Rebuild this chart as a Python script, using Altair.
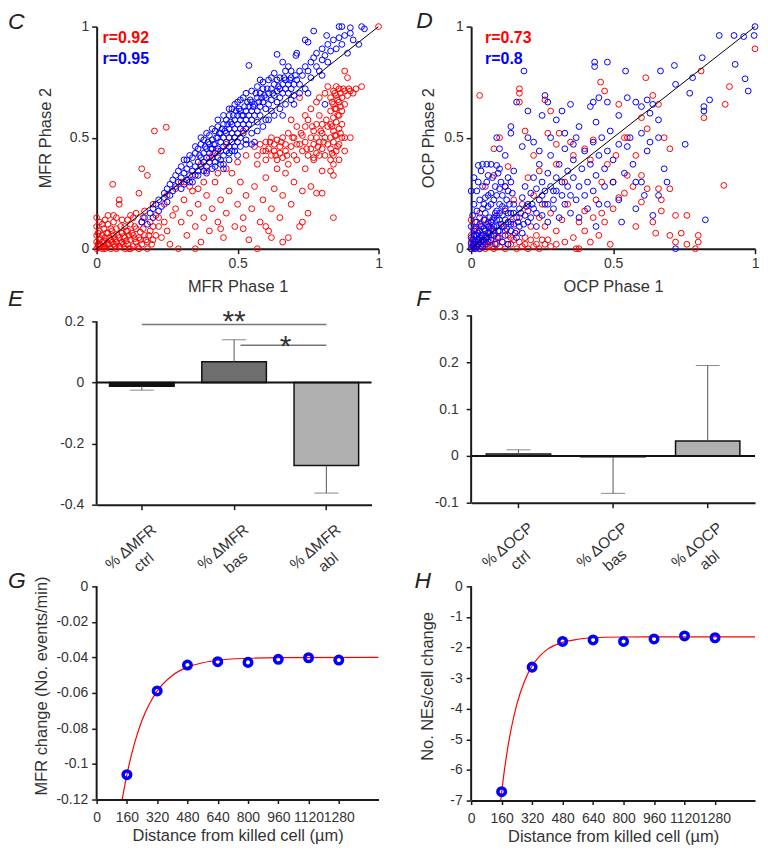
import altair as alt
import pandas as pd

FONT = "Liberation Sans"
TXT = "#333333"
AXC = "#1a1a1a"
RED = "#ff0000"
BLUE = "#0000ff"

# ---------------- Panel C (MFR phase 1 vs phase 2) ----------------
c_red = [
    (0, 0), (0.01, 0.01), (0.02, 0), (0.005, 0.02), (0.01, 0.04), (0.02, 0.03), (0.03, 0.01), (0.03, 0.05),
    (0.04, 0.02), (0.04, 0.07), (0.05, 0), (0.05, 0.04), (0.06, 0.02), (0.06, 0.06), (0.07, 0.03), (0.07, 0.09),
    (0.08, 0.01), (0.08, 0.05), (0.09, 0.03), (0.09, 0.07), (0.1, 0), (0.1, 0.05), (0.11, 0.02), (0.11, 0.08),
    (0.12, 0.04), (0.12, 0.11), (0.13, 0.01), (0.13, 0.06), (0.14, 0.03), (0.14, 0.09), (0.15, 0.05), (0.16, 0.02),
    (0.16, 0.12), (0.17, 0.06), (0.18, 0.03), (0.19, 0.08), (0.2, 0.04), (0.0, 0.06), (0.01, 0.08), (0.02, 0.11),
    (0.03, 0.13), (0.0, 0.1), (0.04, 0.11), (0.05, 0.09), (0.06, 0.12), (0.07, 0.14), (0.09, 0.13), (0.1, 0.1),
    (0.12, 0.15), (0.03, 0.0), (0.07, 0.0), (0.12, 0.0), (0.15, 0.0), (0.18, 0.0), (0.0, 0.03), (0.02, 0.06),
    (0.015, 0.015), (0.025, 0.035), (0.035, 0.02), (0.045, 0.05), (0.055, 0.03), (0.065, 0.045), (0.085, 0.025),
    (0.095, 0.055), (0.105, 0.035), (0.115, 0.06), (0.135, 0.045), (0.155, 0.075), (0.175, 0.04), (0.195, 0.02),
    (0.005, 0.005), (0.015, 0.045), (0.025, 0.01), (0.035, 0.07), (0.045, 0.02), (0.055, 0.08), (0.065, 0.01),
    (0.075, 0.06), (0.085, 0.1), (0.095, 0.02), (0.105, 0.08), (0.115, 0.0), (0.125, 0.07), (0.135, 0.1),
    (0.145, 0.01), (0.155, 0.04), (0.165, 0.09), (0.185, 0.06), (0.2, 0.1), (0.21, 0.06), (0.01, 0.12),
    (0.04, 0.15), (0.06, 0.15), (0.11, 0.13), (0.13, 0.14), (0.165, 0.14), (0.19, 0.12), (0.22, 0.14),
    (0.005, 0.07), (0.025, 0.09), (0.0, 0.14),
    (0.057, 0.29), (0.08, 0.2), (0.08, 0.22), (0.15, 0.25), (0.14, 0.16), (0.17, 0.17), (0.2, 0.2), (0.21, 0.15),
    (0.22, 0.1), (0.23, 0.05), (0.24, 0.12), (0.25, 0.08), (0.26, 0.02), (0.205, 0.53), (0.247, 0.547),
    (0.16, 0.36), (0.23, 0.44), (0.18, 0.33),
    (0.25, 0.24), (0.28, 0.27), (0.31, 0.3), (0.34, 0.33), (0.37, 0.38), (0.4, 0.41), (0.43, 0.44), (0.46, 0.47),
    (0.49, 0.5), (0.52, 0.53), (0.39, 0.35), (0.41, 0.42),
    (0.28, 0.18), (0.3, 0.12), (0.31, 0.22), (0.32, 0.06), (0.33, 0.16), (0.34, 0.26), (0.35, 0.1), (0.36, 0.2),
    (0.37, 0.03), (0.38, 0.14), (0.39, 0.24), (0.4, 0.08), (0.41, 0.18), (0.42, 0.3), (0.43, 0.12), (0.44, 0.22),
    (0.45, 0.05), (0.46, 0.16), (0.47, 0.26), (0.48, 0.34), (0.49, 0.1), (0.5, 0.2), (0.51, 0.3), (0.52, 0.14),
    (0.53, 0.24), (0.54, 0.04), (0.55, 0.18), (0.56, 0.28), (0.57, 0.38), (0.58, 0.12), (0.59, 0.22), (0.6, 0.32),
    (0.61, 0.08), (0.62, 0.18), (0.63, 0.27), (0.64, 0.36), (0.65, 0.14), (0.66, 0.24), (0.67, 0.34), (0.68, 0.05),
    (0.69, 0.2), (0.7, 0.3), (0.71, 0.4), (0.72, 0.1), (0.73, 0.26), (0.74, 0.36), (0.75, 0.16), (0.76, 0.28),
    (0.77, 0.4), (0.78, 0.25), (0.8, 0.25), (0.8, 0.35), (0.84, 0.14), (0.73, 0.12), (0.57, 0.0), (0.66, 0.03),
    (0.29, 0.0), (0.35, 0.0), (0.44, 0.09), (0.52, 0.09), (0.6, 0.1), (0.62, 0.05), (0.3, 0.3), (0.33, 0.28),
    (0.38, 0.3), (0.43, 0.34), (0.46, 0.36), (0.5, 0.39), (0.53, 0.42), (0.36, 0.27), (0.27, 0.15), (0.24, 0.2),
    (0.56, 0.46), (0.57, 0.42), (0.58, 0.47), (0.59, 0.44), (0.6, 0.4), (0.6, 0.48), (0.61, 0.45), (0.62, 0.42),
    (0.62, 0.5), (0.63, 0.47), (0.63, 0.44), (0.64, 0.4), (0.64, 0.49), (0.65, 0.46), (0.65, 0.43), (0.66, 0.5),
    (0.66, 0.41), (0.67, 0.47), (0.67, 0.44), (0.68, 0.52), (0.68, 0.38), (0.69, 0.46), (0.7, 0.42), (0.7, 0.5),
    (0.71, 0.55), (0.69, 0.58), (0.6, 0.44), (0.615, 0.48), (0.635, 0.42), (0.655, 0.48), (0.675, 0.42),
    (0.695, 0.5), (0.71, 0.47), (0.725, 0.52), (0.745, 0.45), (0.765, 0.55), (0.785, 0.46), (0.795, 0.53),
    (0.805, 0.48), (0.815, 0.58), (0.79, 0.42), (0.77, 0.41),
    (0.72, 0.47), (0.73, 0.51), (0.73, 0.44), (0.74, 0.55), (0.74, 0.48), (0.75, 0.42), (0.75, 0.58), (0.76, 0.5),
    (0.76, 0.45), (0.77, 0.53), (0.77, 0.47), (0.78, 0.56), (0.78, 0.43), (0.78, 0.5), (0.79, 0.48), (0.79, 0.6),
    (0.8, 0.52), (0.8, 0.45), (0.8, 0.56), (0.81, 0.5), (0.81, 0.42), (0.82, 0.55), (0.82, 0.47), (0.76, 0.63),
    (0.78, 0.66), (0.74, 0.6), (0.72, 0.68),
    (0.83, 0.4), (0.84, 0.42), (0.83, 0.45), (0.85, 0.44), (0.84, 0.48), (0.86, 0.47), (0.83, 0.5), (0.85, 0.51),
    (0.87, 0.5), (0.84, 0.53), (0.86, 0.54), (0.83, 0.56), (0.85, 0.57), (0.87, 0.56), (0.84, 0.59), (0.86, 0.6),
    (0.83, 0.62), (0.85, 0.63), (0.87, 0.62), (0.84, 0.65), (0.86, 0.66), (0.88, 0.65), (0.83, 0.68), (0.85, 0.69),
    (0.87, 0.68), (0.84, 0.71), (0.86, 0.72), (0.88, 0.71), (0.89, 0.69), (0.9, 0.71), (0.92, 0.72), (0.94, 0.73),
    (0.835, 0.43), (0.855, 0.46), (0.845, 0.51), (0.865, 0.52), (0.835, 0.55), (0.855, 0.6), (0.845, 0.63),
    (0.865, 0.64), (0.835, 0.66), (0.855, 0.67), (0.845, 0.7), (0.865, 0.7), (0.875, 0.72), (0.895, 0.72),
    (0.91, 0.7), (0.85, 0.73),
    (0.82, 0.73), (0.84, 0.38), (0.86, 0.4), (0.88, 0.5), (0.88, 0.44), (0.89, 0.77), (0.88, 0.8), (0.81, 0.7),
    (0.79, 0.68), (0.83, 0.35), (0.84, 0.33), (0.9, 0.5), (1.0, 1.0),
]
c_blue = [
    (0.16, 0.12), (0.17, 0.14), (0.18, 0.11), (0.19, 0.16), (0.2, 0.18), (0.2, 0.14), (0.21, 0.2), (0.22, 0.17),
    (0.22, 0.22), (0.23, 0.19), (0.24, 0.23), (0.24, 0.25), (0.25, 0.21), (0.25, 0.27),
    (0.26, 0.24), (0.26, 0.29), (0.27, 0.26), (0.27, 0.31), (0.28, 0.28), (0.28, 0.33), (0.29, 0.3), (0.29, 0.35),
    (0.3, 0.27), (0.3, 0.32), (0.3, 0.37), (0.31, 0.34), (0.31, 0.29), (0.32, 0.36), (0.32, 0.31), (0.32, 0.4),
    (0.33, 0.33), (0.33, 0.38), (0.34, 0.35), (0.34, 0.41), (0.34, 0.3), (0.35, 0.37), (0.35, 0.43), (0.35, 0.33),
    (0.36, 0.39), (0.36, 0.35), (0.36, 0.45), (0.37, 0.41), (0.37, 0.37), (0.37, 0.47), (0.38, 0.43), (0.38, 0.39),
    (0.38, 0.35), (0.38, 0.49), (0.39, 0.45), (0.39, 0.41), (0.39, 0.37), (0.4, 0.47), (0.4, 0.43), (0.4, 0.39),
    (0.4, 0.51), (0.41, 0.45), (0.41, 0.41), (0.41, 0.49), (0.41, 0.36), (0.42, 0.47), (0.42, 0.43), (0.42, 0.53),
    (0.42, 0.39), (0.43, 0.5), (0.43, 0.45), (0.43, 0.41), (0.43, 0.55), (0.44, 0.48), (0.44, 0.44), (0.44, 0.52),
    (0.44, 0.4), (0.45, 0.5), (0.45, 0.46), (0.45, 0.56), (0.45, 0.42), (0.45, 0.36),
    (0.46, 0.52), (0.46, 0.48), (0.46, 0.44), (0.46, 0.58), (0.47, 0.54), (0.47, 0.5), (0.47, 0.46), (0.47, 0.6),
    (0.48, 0.56), (0.48, 0.52), (0.48, 0.48), (0.48, 0.44), (0.48, 0.63), (0.49, 0.58), (0.49, 0.54), (0.49, 0.5),
    (0.49, 0.46), (0.5, 0.6), (0.5, 0.56), (0.5, 0.52), (0.5, 0.48), (0.5, 0.66), (0.51, 0.58), (0.51, 0.54),
    (0.51, 0.5), (0.51, 0.62), (0.52, 0.6), (0.52, 0.56), (0.52, 0.52), (0.52, 0.68), (0.53, 0.62), (0.53, 0.58),
    (0.53, 0.54), (0.53, 0.49), (0.54, 0.64), (0.54, 0.6), (0.54, 0.56), (0.55, 0.66), (0.55, 0.62), (0.55, 0.58),
    (0.55, 0.52), (0.45, 0.38), (0.47, 0.4), (0.55, 0.47), (0.56, 0.48), (0.5, 0.42),
    (0.31, 0.4), (0.33, 0.42), (0.35, 0.46), (0.37, 0.5), (0.39, 0.52), (0.41, 0.54), (0.43, 0.58), (0.45, 0.6),
    (0.47, 0.63), (0.49, 0.65), (0.51, 0.67), (0.53, 0.7), (0.55, 0.71), (0.57, 0.73), (0.59, 0.75), (0.61, 0.76),
    (0.63, 0.79), (0.65, 0.77), (0.67, 0.8), (0.69, 0.8), (0.33, 0.3), (0.36, 0.33), (0.39, 0.34), (0.42, 0.37),
    (0.44, 0.38), (0.47, 0.43), (0.49, 0.44), (0.51, 0.46), (0.53, 0.47), (0.57, 0.53), (0.59, 0.55), (0.61, 0.58),
    (0.63, 0.6), (0.65, 0.63), (0.67, 0.65), (0.69, 0.67), (0.72, 0.7), (0.365, 0.42), (0.385, 0.46),
    (0.405, 0.45), (0.425, 0.5), (0.445, 0.54), (0.465, 0.56), (0.485, 0.6), (0.505, 0.63), (0.525, 0.64),
    (0.545, 0.67), (0.565, 0.7), (0.585, 0.68), (0.605, 0.72), (0.625, 0.7), (0.645, 0.73), (0.665, 0.77),
    (0.685, 0.76), (0.705, 0.78), (0.395, 0.48), (0.415, 0.47), (0.435, 0.52), (0.455, 0.53), (0.475, 0.57),
    (0.495, 0.62), (0.515, 0.6), (0.535, 0.66), (0.555, 0.64), (0.575, 0.66), (0.595, 0.69),
    (0.56, 0.6), (0.56, 0.65), (0.57, 0.62), (0.57, 0.68), (0.57, 0.57), (0.58, 0.64), (0.58, 0.7), (0.58, 0.6),
    (0.59, 0.66), (0.59, 0.72), (0.6, 0.63), (0.6, 0.68), (0.6, 0.58), (0.61, 0.7), (0.61, 0.65), (0.62, 0.67),
    (0.62, 0.72), (0.62, 0.62), (0.63, 0.69), (0.63, 0.74), (0.64, 0.71), (0.64, 0.66), (0.64, 0.76), (0.65, 0.72),
    (0.65, 0.68), (0.66, 0.74), (0.66, 0.7), (0.67, 0.72), (0.67, 0.76), (0.68, 0.7), (0.68, 0.74), (0.69, 0.72),
    (0.69, 0.77), (0.7, 0.74), (0.7, 0.69),
    (0.54, 0.825), (0.64, 0.875), (0.707, 0.87), (0.74, 0.94), (0.75, 0.93), (0.816, 0.96), (0.86, 1.0),
    (0.9, 0.995), (0.94, 1.0), (0.95, 0.99),
    (0.71, 0.76), (0.72, 0.8), (0.72, 0.74), (0.73, 0.78), (0.74, 0.82), (0.74, 0.72), (0.75, 0.8), (0.76, 0.84),
    (0.76, 0.77), (0.77, 0.86), (0.78, 0.82), (0.78, 0.88), (0.79, 0.8), (0.8, 0.85), (0.8, 0.9), (0.81, 0.87),
    (0.82, 0.92), (0.83, 0.89), (0.84, 0.94), (0.85, 0.9), (0.86, 0.95), (0.87, 0.92), (0.88, 0.96), (0.9, 0.97),
    (0.91, 0.94), (0.87, 1.0), (0.71, 0.88), (0.68, 0.82), (0.66, 0.84), (0.77, 0.98), (0.8, 0.78), (0.75, 0.7),
    (0.82, 0.84), (0.89, 0.88), (0.93, 0.92), (0.66, 0.6), (0.7, 0.65), (0.81, 0.65), (0.62, 0.77), (0.58, 0.76),
]
c_r = ["r=0.92", "r=0.95"]

# ---------------- Panel D (OCP phase 1 vs phase 2) ----------------
d_red = [
    (0.0, 0.0), (0.01, 0.0), (0.02, 0.01), (0.03, 0.0), (0.04, 0.02), (0.05, 0.0), (0.06, 0.01), (0.08, 0.0),
    (0.1, 0.01), (0.12, 0.0), (0.14, 0.02), (0.16, 0.0), (0.18, 0.01), (0.2, 0.0), (0.22, 0.01), (0.24, 0.0),
    (0.26, 0.02), (0.0, 0.03), (0.0, 0.06), (0.01, 0.04), (0.02, 0.08), (0.03, 0.05), (0.0, 0.13), (0.04, 0.1),
    (0.05, 0.06), (0.06, 0.12), (0.07, 0.04), (0.08, 0.08), (0.09, 0.15), (0.1, 0.05), (0.11, 0.1), (0.12, 0.17),
    (0.13, 0.06), (0.14, 0.12), (0.15, 0.22), (0.16, 0.08), (0.17, 0.14), (0.18, 0.2), (0.19, 0.05), (0.2, 0.17),
    (0.21, 0.1), (0.22, 0.24), (0.23, 0.06), (0.24, 0.14), (0.25, 0.2), (0.26, 0.1), (0.27, 0.04), (0.28, 0.16),
    (0.3, 0.08), (0.3, 0.02), (0.32, 0.13), (0.33, 0.03), (0.34, 0.2), (0.36, 0.05), (0.37, 0.0), (0.38, 0.0),
    (0.38, 0.12), (0.4, 0.08), (0.4, 0.17), (0.42, 0.03), (0.43, 0.14), (0.44, 0.22), (0.45, 0.06), (0.46, 0.16),
    (0.47, 0.12), (0.49, 0.02), (0.5, 0.18),
    (0.005, 0.015), (0.015, 0.02), (0.025, 0.03), (0.035, 0.01), (0.045, 0.03), (0.055, 0.02), (0.065, 0.03),
    (0.075, 0.01), (0.09, 0.02), (0.11, 0.03), (0.13, 0.02), (0.15, 0.04), (0.17, 0.03), (0.19, 0.02),
    (0.21, 0.04), (0.23, 0.02), (0.25, 0.04), (0.28, 0.01), (0.01, 0.09), (0.02, 0.12), (0.03, 0.16),
    (0.05, 0.13), (0.07, 0.09), (0.09, 0.05), (0.12, 0.08), (0.14, 0.05),
    (0.03, 0.69), (0.17, 0.72), (0.17, 0.7), (0.17, 0.66), (0.26, 0.67), (0.28, 0.62), (0.1, 0.5), (0.08, 0.45),
    (0.19, 0.53), (0.22, 0.42), (0.27, 0.52), (0.3, 0.47), (0.31, 0.52), (0.35, 0.48), (0.36, 0.42), (0.4, 0.45),
    (0.42, 0.4), (0.456, 0.75), (0.47, 0.71), (0.52, 0.65), (0.54, 0.5), (0.55, 0.5), (0.58, 0.42), (0.6, 0.59),
    (0.62, 0.54), (0.615, 0.77), (0.64, 0.69), (0.66, 0.65), (0.68, 0.5), (0.7, 0.45), (0.81, 0.8), (0.82, 0.59),
    (0.895, 0.65), (0.91, 0.73), (0.89, 0.285), (1.0, 0.9), (0.67, 0.17), (0.72, 0.15), (0.76, 0.15), (0.64, 0.12),
    (0.67, 0.22), (0.7, 0.27), (0.66, 0.27), (0.57, 0.28), (0.6, 0.33), (0.62, 0.27), (0.55, 0.33), (0.5, 0.3),
    (0.52, 0.23), (0.54, 0.25), (0.46, 0.3), (0.48, 0.38), (0.51, 0.42), (0.43, 0.49), (0.33, 0.3), (0.12, 0.28),
    (0.05, 0.28), (0.08, 0.33), (0.13, 0.37), (0.2, 0.32), (0.24, 0.35), (0.3, 0.38), (0.6, 0.21), (0.58, 0.1),
    (0.65, 0.07), (0.72, 0.03), (0.76, 0.02), (0.79, 0.0), (0.8, 0.03), (0.8, 0.06), (0.7, 0.06), (0.74, 0.07),
]
d_blue = [
    (0, 0), (0.005, 0.01), (0.01, 0.005), (0.01, 0.02), (0.015, 0.03), (0.02, 0.01), (0.02, 0.04), (0.025, 0.02),
    (0.03, 0.05), (0.03, 0.0), (0.035, 0.03), (0.04, 0.06), (0.04, 0.01), (0.045, 0.04), (0.05, 0.08), (0.05, 0.02),
    (0.055, 0.05), (0.06, 0.1), (0.06, 0.03), (0.065, 0.07), (0.07, 0.12), (0.07, 0.04), (0.075, 0.09), (0.08, 0.06),
    (0.08, 0.14), (0.085, 0.02), (0.09, 0.1), (0.09, 0.17), (0.095, 0.05), (0.1, 0.13), (0.1, 0.08), (0.1, 0.2),
    (0.11, 0.03), (0.11, 0.15), (0.115, 0.1), (0.12, 0.18), (0.12, 0.06), (0.125, 0.22), (0.13, 0.12), (0.13, 0.02),
    (0.14, 0.16), (0.14, 0.08), (0.145, 0.25), (0.15, 0.11), (0.15, 0.2), (0.16, 0.05), (0.16, 0.14), (0.17, 0.18),
    (0.17, 0.1), (0.18, 0.23), (0.18, 0.07), (0.19, 0.15), (0.19, 0.28), (0.2, 0.12), (0.2, 0.2), (0.0, 0.05),
    (0.0, 0.1), (0.005, 0.15), (0.01, 0.08), (0.01, 0.2), (0.015, 0.12), (0.02, 0.26), (0.02, 0.17), (0.025, 0.07),
    (0.03, 0.22), (0.03, 0.14), (0.035, 0.1), (0.04, 0.18), (0.04, 0.28), (0.045, 0.13), (0.05, 0.23), (0.05, 0.16),
    (0.055, 0.3), (0.06, 0.19), (0.065, 0.14), (0.07, 0.25), (0.07, 0.2), (0.075, 0.32), (0.08, 0.22), (0.085, 0.28),
    (0.09, 0.24), (0.095, 0.34), (0.1, 0.27), (0.105, 0.3), (0.11, 0.24), (0.12, 0.28), (0.13, 0.32), (0.13, 0.26),
    (0.14, 0.3), (0.15, 0.35), (0.025, 0.375), (0.04, 0.38), (0.055, 0.38), (0.07, 0.38), (0.09, 0.375), (0.1, 0.36),
    (0.0, 0.02), (0.005, 0.04), (0.01, 0.06), (0.015, 0.0), (0.02, 0.06), (0.025, 0.04), (0.03, 0.08),
    (0.035, 0.06), (0.04, 0.04), (0.045, 0.09), (0.05, 0.05), (0.055, 0.11), (0.06, 0.07), (0.065, 0.1),
    (0.07, 0.06), (0.075, 0.13), (0.08, 0.1), (0.085, 0.16), (0.09, 0.13), (0.095, 0.08), (0.1, 0.16),
    (0.105, 0.11), (0.11, 0.19), (0.12, 0.13), (0.125, 0.09), (0.13, 0.16), (0.135, 0.2), (0.14, 0.11),
    (0.15, 0.16), (0.155, 0.07), (0.165, 0.12), (0.175, 0.16), (0.185, 0.11), (0.195, 0.19), (0.21, 0.14),
    (0.215, 0.2), (0.23, 0.16), (0.25, 0.24), (0.27, 0.2), (0.29, 0.26), (0.015, 0.09), (0.03, 0.11),
    (0.045, 0.2), (0.06, 0.24), (0.025, 0.3), (0.01, 0.32), (0.035, 0.35), (0.06, 0.33),
    (0.21, 0.25), (0.22, 0.18), (0.22, 0.32), (0.23, 0.1), (0.23, 0.27), (0.24, 0.22), (0.24, 0.38), (0.25, 0.15),
    (0.25, 0.3), (0.26, 0.26), (0.26, 0.2), (0.27, 0.34), (0.27, 0.12), (0.28, 0.28), (0.28, 0.42), (0.29, 0.22),
    (0.29, 0.18), (0.3, 0.32), (0.3, 0.26), (0.31, 0.38), (0.31, 0.14), (0.32, 0.24), (0.32, 0.3), (0.33, 0.2),
    (0.33, 0.45), (0.34, 0.28), (0.34, 0.35), (0.35, 0.16), (0.35, 0.24), (0.36, 0.32), (0.36, 0.4), (0.37, 0.22),
    (0.37, 0.5), (0.38, 0.28), (0.38, 0.14), (0.39, 0.36), (0.4, 0.24), (0.4, 0.44), (0.41, 0.3), (0.41, 0.18),
    (0.42, 0.38), (0.43, 0.48), (0.43, 0.26), (0.44, 0.33), (0.45, 0.42), (0.45, 0.2), (0.46, 0.5), (0.47, 0.36),
    (0.47, 0.28), (0.48, 0.44), (0.49, 0.53), (0.5, 0.3), (0.5, 0.4),
    (0.186, 0.8), (0.16, 0.66), (0.14, 0.55), (0.14, 0.52), (0.2, 0.62), (0.26, 0.69), (0.27, 0.66), (0.25, 0.6),
    (0.3, 0.58), (0.32, 0.62), (0.28, 0.5), (0.2, 0.5), (0.1, 0.45), (0.09, 0.5), (0.12, 0.42), (0.18, 0.46),
    (0.22, 0.48), (0.35, 0.65), (0.38, 0.55), (0.42, 0.64), (0.43, 0.66), (0.45, 0.68), (0.48, 0.66), (0.44, 0.57),
    (0.36, 0.47), (0.33, 0.52), (0.24, 0.44), (0.0, 0.26),
    (0.435, 0.84), (0.435, 0.82), (0.48, 0.84), (0.544, 0.8), (0.667, 0.8), (0.716, 0.825), (0.814, 0.86),
    (0.874, 0.96), (0.926, 0.96), (0.96, 0.955), (0.997, 0.96), (1.0, 1.0), (0.93, 0.83), (0.965, 0.765),
    (0.976, 0.71), (0.84, 0.67), (0.82, 0.64), (0.82, 0.62), (0.77, 0.7), (0.78, 0.77), (0.72, 0.74), (0.52, 0.6),
    (0.55, 0.68), (0.58, 0.66), (0.6, 0.64), (0.62, 0.67), (0.64, 0.65), (0.63, 0.61), (0.66, 0.58), (0.6, 0.52),
    (0.56, 0.5), (0.52, 0.47), (0.55, 0.46), (0.63, 0.48), (0.66, 0.5), (0.754, 0.47), (0.57, 0.38), (0.58, 0.3),
    (0.6, 0.3), (0.62, 0.44), (0.66, 0.24), (0.61, 0.24), (0.69, 0.3), (0.64, 0.15), (0.825, 0.13), (0.72, 0.0),
    (0.54, 0.34), (0.52, 0.22), (0.48, 0.2), (0.44, 0.1), (0.53, 0.12), (0.58, 0.18), (0.68, 0.36),
]
d_r = ["r=0.73", "r=0.8"]

# ---------------- Panel E / F (bar charts) ----------------
e_cats = ["% ΔMFR|ctrl", "% ΔMFR|bas", "% ΔMFR|abl"]
e_means = [-0.012, 0.068, -0.272]
e_err_end = [-0.025, 0.140, -0.362]
e_fills = ["#111111", "#6e6e6e", "#b0b0b0"]
e_ticks = [0.2, 0, -0.2, -0.4]

f_cats = ["% ΔOCP|ctrl", "% ΔOCP|bas", "% ΔOCP|abl"]
f_means = [0.004, -0.002, 0.032]
f_err_end = [0.013, -0.080, 0.193]
f_fills = ["#c4c4c4", "#111111", "#b0b0b0"]
f_ticks = [0.3, 0.2, 0.1, 0, -0.1]

# ---------------- Panel G / H (distance curves) ----------------
dist = [160, 320, 480, 640, 800, 960, 1120, 1280]
g_vals = [-0.106, -0.0589, -0.0443, -0.0424, -0.0428, -0.0411, -0.0402, -0.0415]
g_fit_x = [135, 160, 200, 240, 280, 320, 400, 480, 560, 640, 800, 960, 1490]
g_fit_y = [-0.120, -0.106, -0.0884, -0.0754, -0.066, -0.059, -0.0502, -0.0455, -0.043, -0.0416, -0.0405,
           -0.0401, -0.040]
g_ticks = [0, -0.02, -0.04, -0.06, -0.08, -0.1, -0.12]

h_vals = [-6.71, -2.64, -1.80, -1.75, -1.80, -1.72, -1.62, -1.68]
h_fit_x = [155, 170, 190, 210, 240, 280, 320, 360, 400, 480, 560, 640, 800, 1000, 1490]
h_fit_y = [-7.0, -6.22, -5.36, -4.66, -3.85, -3.10, -2.60, -2.28, -2.06, -1.83, -1.73, -1.68, -1.655, -1.65, -1.65]
h_ticks = [0, -1, -2, -3, -4, -5, -6, -7]
dist_ticks = [0, 160, 320, 480, 640, 800, 960, 1120, 1280]

LBL = "'' + datum.value"


def letter_layer(letter, lx, ly):
    return alt.Chart(pd.DataFrame({"t": [letter]})).mark_text(
        align="left", baseline="top", fontSize=23, fontStyle="italic", font=FONT, color="#222222"
    ).encode(x=alt.value(lx), y=alt.value(ly), text="t:N")


def yaxis_line(lo, hi):
    # the visible y-axis line, drawn only between the first and last tick
    return alt.Chart(pd.DataFrame({"a": [lo], "b": [hi]})).mark_rule(
        color=AXC, strokeWidth=2).encode(x=alt.value(0), y="a:Q", y2="b:Q")


def scatter_panel(red, blue, rtexts, rx, xtitle, ytitle, ytp, letter, lx, ly, w, h):
    xs = alt.Scale(domain=[0, 1], nice=False)
    ys = alt.Scale(domain=[0, 1], nice=False)
    xax = alt.Axis(values=[0, 0.5, 1], labelExpr=LBL, title=xtitle, titlePadding=8, labelOverlap=False,
                   tickCount=20)
    yax = alt.Axis(values=[0, 0.5, 1], labelExpr=LBL, title=ytitle, titlePadding=ytp, labelOverlap=False,
                   tickCount=20)
    rdf = pd.DataFrame(red, columns=["x", "y"])
    bdf = pd.DataFrame(blue, columns=["x", "y"])
    pt = dict(shape="circle", filled=False, size=34, strokeWidth=1, opacity=1)
    lr = alt.Chart(rdf).mark_point(color=RED, **pt).encode(
        x=alt.X("x:Q", scale=xs, axis=xax), y=alt.Y("y:Q", scale=ys, axis=yax))
    lb = alt.Chart(bdf).mark_point(color=BLUE, **pt).encode(x="x:Q", y="y:Q")
    diag = alt.Chart(pd.DataFrame({"x": [0, 1], "y": [0, 1]})).mark_line(
        color="black", strokeWidth=1).encode(x="x:Q", y="y:Q")
    txt = alt.Chart(pd.DataFrame({"x": [rx, rx], "y": [0.95, 0.852], "t": rtexts, "c": [RED, BLUE]})).mark_text(
        align="left", baseline="middle", fontSize=16, fontWeight="bold", font=FONT
    ).encode(x="x:Q", y="y:Q", text="t:N", color=alt.Color("c:N", scale=None))
    return alt.layer(lr, lb, diag, txt, letter_layer(letter, lx, ly)).properties(width=w, height=h)


def bar_panel(cats, means, ends, fills, ydom, yvals, pin, pout, w, h, letter, lx, ly, sig=False):
    df = pd.DataFrame({"cat": cats, "m": means, "e": ends, "f": fills})
    xs = alt.Scale(domain=cats, paddingInner=pin, paddingOuter=pout)
    xax = alt.Axis(title=None, labelAngle=-40, labelAlign="center", labelBaseline="middle",
                   labelExpr="split(datum.label, '|')", labelPadding=37, labelOffset=-11,
                   labelFontSize=15.5, labelLineHeight=20, labelOverlap=False)
    ys = alt.Scale(domain=ydom, nice=False, zero=False)
    yax = alt.Axis(values=yvals, labelExpr=LBL, title=None, labelPadding=8, domain=False, labelOverlap=False,
                   tickCount=20)
    bars = alt.Chart(df).mark_bar(stroke="#111111", strokeWidth=1.5).encode(
        x=alt.X("cat:N", scale=xs, axis=xax),
        y=alt.Y("m:Q", scale=ys, axis=yax),
        fill=alt.Fill("f:N", scale=None))
    err = alt.Chart(df).mark_rule(color="#555555", strokeWidth=1).encode(x="cat:N", y="m:Q", y2="e:Q")
    cap = alt.Chart(df).mark_tick(color="#555555", thickness=1, size=24).encode(x="cat:N", y="e:Q")
    zero = alt.Chart(pd.DataFrame({"z": [0]})).mark_rule(color="#111111", strokeWidth=2).encode(y="z:Q")
    layers = [bars, err, cap, zero, yaxis_line(yvals[-1], yvals[0])]
    if sig:
        s1 = alt.Chart(pd.DataFrame({"a": [cats[0]], "b": [cats[2]], "y": [0.19]})).mark_rule(
            color="#777777", strokeWidth=1.5).encode(
            x=alt.X("a:N", bandPosition=0.5), x2=alt.X2("b:N", bandPosition=0.5), y="y:Q")
        s2 = alt.Chart(pd.DataFrame({"a": [cats[1]], "b": [cats[2]], "y": [0.122]})).mark_rule(
            color="#777777", strokeWidth=1.5).encode(
            x=alt.X("a:N", bandPosition=0.6), x2=alt.X2("b:N", bandPosition=0.5), y="y:Q")
        t1 = alt.Chart(pd.DataFrame({"a": [cats[1]], "y": [0.17], "t": ["**"]})).mark_text(
            fontSize=30, font=FONT, color="#333333", baseline="alphabetic").encode(x="a:N", y="y:Q", text="t:N")
        t2 = alt.Chart(pd.DataFrame({"a": [cats[2]], "y": [0.088], "t": ["*"]})).mark_text(
            fontSize=30, font=FONT, color="#333333", baseline="alphabetic", dx=-41).encode(
            x="a:N", y="y:Q", text="t:N")
        layers += [s1, s2, t1, t2]
    layers.append(letter_layer(letter, lx, ly))
    return alt.layer(*layers).properties(width=w, height=h)


def curve_panel(vals, fx, fy, ydom, yvals, ytitle, ytp, letter, lx, ly, w, h):
    xs = alt.Scale(domain=[0, 1490], nice=False)
    ys = alt.Scale(domain=ydom, nice=False, zero=False)
    xax = alt.Axis(values=dist_ticks, labelExpr=LBL, title="Distance from killed cell (µm)",
                   titlePadding=3, labelPadding=7, tickSize=4, labelOverlap=False, labelFlush=False,
                   tickCount=20)
    yax = alt.Axis(values=yvals, labelExpr=LBL, title=ytitle, titlePadding=ytp, labelPadding=4, domain=False,
                   labelOverlap=False, labelFlush=False, tickCount=20)
    fit = alt.Chart(pd.DataFrame({"x": fx, "y": fy})).mark_line(
        color=RED, strokeWidth=1.2, interpolate="monotone", clip=True).encode(
        x=alt.X("x:Q", scale=xs, axis=xax), y=alt.Y("y:Q", scale=ys, axis=yax))
    pts = alt.Chart(pd.DataFrame({"x": dist, "y": vals})).mark_point(
        shape="circle", filled=False, color=BLUE, size=57, strokeWidth=3.5, opacity=1).encode(
        x="x:Q", y="y:Q")
    return alt.layer(fit, pts, yaxis_line(yvals[-1], yvals[0]),
                     letter_layer(letter, lx, ly)).properties(width=w, height=h)


# grid rows (plot areas): row1 top 24 / h 223; row2 top 314; row3 top 571 (axes start at 586)
C = scatter_panel(c_red, c_blue, c_r, 0.021, "MFR Phase 1", "MFR Phase 2", 16, "C", -89, -16, 283, 223)
D = scatter_panel(d_red, d_blue, d_r, 0.049, "OCP Phase 1", "OCP Phase 2", 7, "D", -55, -17, 285, 223)
E = bar_panel(e_cats, e_means, e_err_end, e_fills, [-0.4, 0.2196], e_ticks, 0.3, 0.14, 276, 190, "E", -89, -27,
              sig=True)
F = bar_panel(f_cats, f_means, f_err_end, f_fills, [-0.1, 0.3], f_ticks, 0.32, 0.16, 285, 188, "F", -55, -27)
G = curve_panel(g_vals, g_fit_x, g_fit_y, [-0.12, 0.0084], g_ticks, "MFR change (No. events/min)", 6,
                "G", -89, -1, 283, 229)
H = curve_panel(h_vals, h_fit_x, h_fit_y, [-7, 0.488], h_ticks, "No. NEs/cell change", 14,
                "H", -57, -1, 285, 230)

chart = alt.concat(
    C, D, E, F, G, H, columns=2, spacing={"row": 67, "column": 93}, bounds="flush"
).properties(
    padding=0, background="white"
).configure_axis(
    domainColor=AXC, domainWidth=2, tickColor=AXC, tickWidth=1.5, tickSize=5,
    labelFont=FONT, labelFontSize=14, labelColor=TXT, labelPadding=3,
    titleFont=FONT, titleFontSize=16.5, titleFontWeight="normal", titleColor=TXT,
    grid=False, labelOverlap=False, labelFlush=False,
).configure_view(stroke=None)

chart.save("out.html", embed_options={"renderer": "svg", "actions": False})
